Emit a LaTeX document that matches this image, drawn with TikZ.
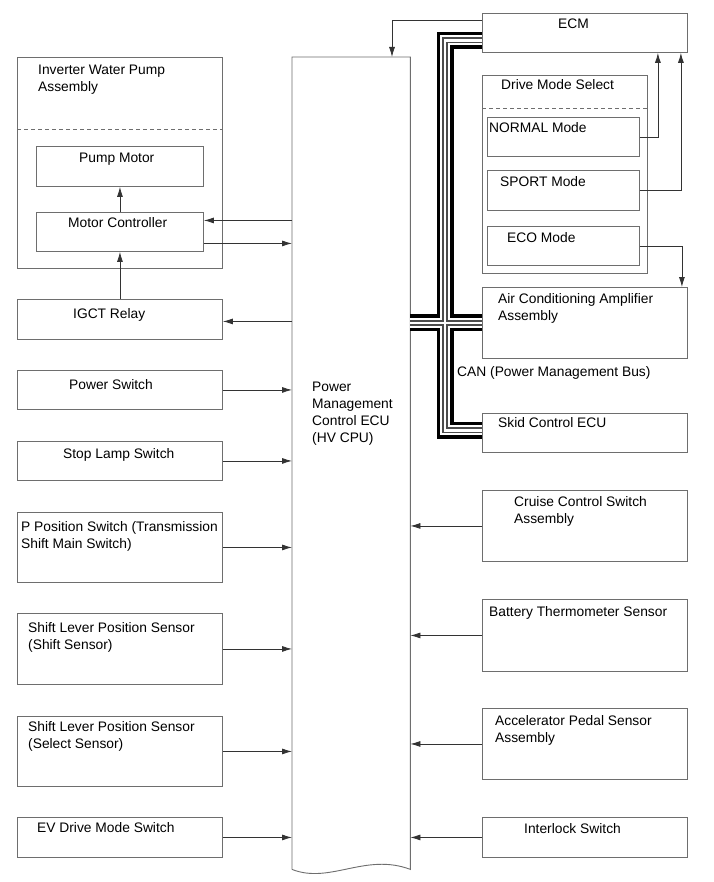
\documentclass[tikz,border=0pt]{standalone}
\usepackage{fontspec}
\setmainfont{Liberation Sans}
\usetikzlibrary{calc}
\usetikzlibrary{positioning}
\usetikzlibrary{arrows.meta}
\definecolor{linegray}{RGB}{110,110,110}
\tikzset{
  unit/.style={draw=linegray, line width=0.9pt, rectangle, anchor=north west, inner sep=0pt},
  txt/.style={anchor=north west, inner sep=0pt, align=left, font=\fontsize{13.8}{17}\selectfont},
  arr/.style={-{Latex[length=10pt,width=6pt]}, draw=black!80, line width=0.8pt},
  sep/.style={draw=linegray, line width=0.8pt, dash pattern=on 4pt off 3pt}
}
\begin{document}
\begin{tikzpicture}[x=1pt, y=-1pt]
  \useasboundingbox[fill=white] (0,0) rectangle (713,882);

  % left column
  \node [unit, minimum width=205pt, minimum height=211pt] (inv) at (17,57) {};
  \node [unit, minimum width=167pt, minimum height=40pt] (pm) at (36,146) {};
  \node [unit, minimum width=167pt, minimum height=39pt] (mc) at (36,212) {};
  \node [unit, minimum width=205pt, minimum height=40pt] (igct) at (17,299) {};
  \node [unit, minimum width=205pt, minimum height=39pt] (ps) at (17,370) {};
  \node [unit, minimum width=205pt, minimum height=39pt] (sls) at (17,441) {};
  \node [unit, minimum width=205pt, minimum height=70pt] (pps) at (17,512) {};
  \node [unit, minimum width=205pt, minimum height=71pt] (slshift) at (17,613) {};
  \node [unit, minimum width=205pt, minimum height=70pt] (slselect) at (17,716) {};
  \node [unit, minimum width=205pt, minimum height=40pt] (evs) at (17,817) {};
  \draw [sep] (inv.west |- 0,129) -- (inv.east |- 0,129);

  \node [txt] (inv-t) at (38,65) {Inverter Water Pump\\Assembly};
  \node [txt] (pm-t) at (79,153) {Pump Motor};
  \node [txt] (mc-t) at (68,217) {Motor Controller};
  \node [txt] (igct-t) at (73,308) {IGCT Relay};
  \node [txt] (ps-t) at (69,379) {Power Switch};
  \node [txt] (sls-t) at (63,448) {Stop Lamp Switch};
  \node [txt] (pps-t) at (21,521) {P Position Switch (Transmission\\Shift Main Switch)};
  \node [txt] (slshift-t) at (28,622) {Shift Lever Position Sensor\\(Shift Sensor)};
  \node [txt] (slselect-t) at (28,721) {Shift Lever Position Sensor\\(Select Sensor)};
  \node [txt] (evs-t) at (37,822) {EV Drive Mode Switch};

  % main ecu
  \node [anchor=north west, inner sep=0pt, minimum width=118pt, minimum height=812pt] (ecu) at (292,57) {};
  \draw [draw=linegray, line width=0.9pt] (ecu.south west) -- (ecu.north west) -- (ecu.north east) -- (ecu.south east)
    .. controls ($(ecu.south east)+(-45,-17)$) and ($(ecu.south west)+(38,15)$) .. (ecu.south west);
  \node [txt] (ecu-t) at (312,382) {Power\\Management\\Control ECU\\(HV CPU)};

  % right column
  \node [unit, minimum width=205pt, minimum height=39pt] (ecm) at (482,13) {};
  \node [unit, minimum width=165pt, minimum height=198pt] (dms) at (482,75) {};
  \node [unit, minimum width=152pt, minimum height=39pt] (normal) at (487,117) {};
  \node [unit, minimum width=152pt, minimum height=40pt] (sport) at (487,170) {};
  \node [unit, minimum width=152pt, minimum height=39pt] (eco) at (487,226) {};
  \node [unit, minimum width=205pt, minimum height=71pt] (ac) at (482,287) {};
  \node [unit, minimum width=205pt, minimum height=39pt] (skid) at (482,413) {};
  \node [unit, minimum width=205pt, minimum height=71pt] (ccs) at (482,490) {};
  \node [unit, minimum width=205pt, minimum height=72pt] (bts) at (482,599) {};
  \node [unit, minimum width=205pt, minimum height=71pt] (aps) at (482,708) {};
  \node [unit, minimum width=205pt, minimum height=40pt] (ils) at (482,817) {};
  \draw [sep] (dms.west |- 0,108) -- (dms.east |- 0,108);

  \node [txt] (ecm-t) at (558,19) {ECM};
  \node [txt] (dms-t) at (501,79) {Drive Mode Select};
  \node [txt] (normal-t) at (489,122) {NORMAL Mode};
  \node [txt] (sport-t) at (500,176) {SPORT Mode};
  \node [txt] (eco-t) at (507,232) {ECO Mode};
  \node [txt] (ac-t) at (498,293) {Air Conditioning Amplifier\\Assembly};
  \node [txt] (can-t) at (457,366) {CAN (Power Management Bus)};
  \node [txt] (skid-t) at (498,417) {Skid Control ECU};
  \node [txt] (ccs-t) at (514,496) {Cruise Control Switch\\Assembly};
  \node [txt] (bts-t) at (489,606) {Battery Thermometer Sensor};
  \node [txt] (aps-t) at (495,715) {Accelerator Pedal Sensor\\Assembly};
  \node [txt] (ils-t) at (524,823) {Interlock Switch};

  % can bus
  \foreach \w/\c in {17/black, 10/white, 6/black!70, 2.5/white} {
    \draw [line width=\w pt, \c, line join=miter]
      ($(ecm.west)+(0,7.5)$) -| ($(skid.west)+(-37,-2.5)$) -- ($(skid.west)+(0,-2.5)$)
      (ecu.east |- ac.west) -- (ac.west);
  }

  % inverter water pump
  \draw [arr] (mc.north) -- (pm.south);
  \draw [arr] (igct.north) -- (mc.south);
  \coordinate (mcin) at ($(mc.east)+(0,-11.5)$);
  \coordinate (mcout) at ($(mc.east)+(0,11.5)$);
  \coordinate (igin) at ($(igct.east)+(0,2)$);
  \draw [arr] (mcin -| ecu.west) -- (mcin);
  \draw [arr] (mcout) -- (mcout -| ecu.west);
  \draw [arr] (igin -| ecu.west) -- (igin);

  % inputs
  \foreach \n in {ps, sls, pps, slshift, slselect, evs} {
    \draw [arr] (\n.east) -- (\n.east -| ecu.west);
  }
  \foreach \n in {ccs, bts, aps, ils} {
    \draw [arr] (\n.west) -- (\n.west -| ecu.east);
  }

  % ecm and drive mode
  \draw [arr] ($(ecm.west)+(0,-12.5)$) -| ($(ecu.north west)+(100,0)$);
  \draw [arr] (normal.east) -| ($(ecm.south east)+(-30,0)$);
  \draw [arr] (sport.east) -| ($(ecm.south east)+(-7,0)$);
  \draw [arr] (eco.east) -| ($(ac.north east)+(-6,0)$);
\end{tikzpicture}
\end{document}
